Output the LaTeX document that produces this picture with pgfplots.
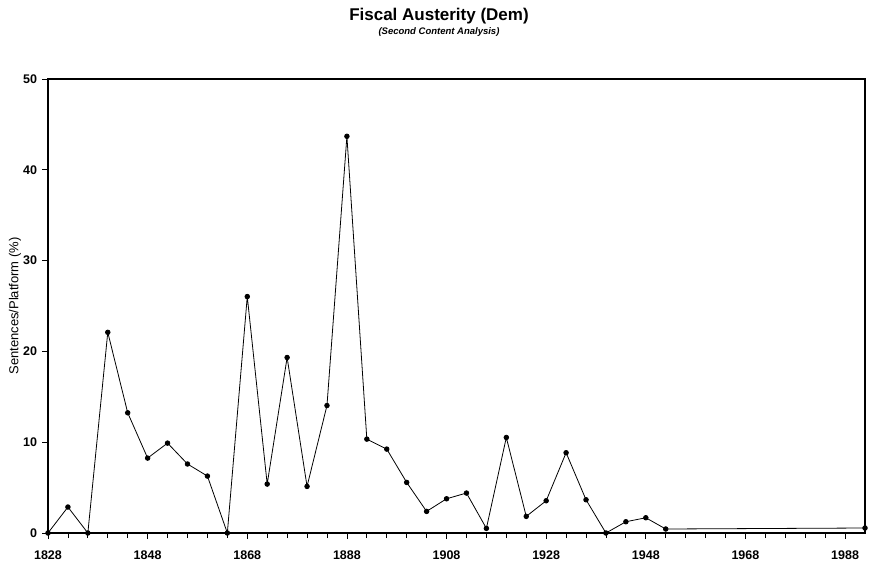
\documentclass[border=0pt]{standalone}
\usepackage{pgfplots}
\pgfplotsset{compat=1.18}
\usepackage{fontspec}
\setmainfont{Liberation Sans}
\begin{document}
\begin{tikzpicture}
\useasboundingbox (-48bp,-34bp) rectangle (821bp,533bp);
\node[font=\bfseries\fontsize{17bp}{19bp}\selectfont] at (391bp,517bp) {Fiscal Austerity (Dem)};
\node[font=\bfseries\itshape\fontsize{9.5bp}{11bp}\selectfont] at (391bp,501bp) {(Second Content Analysis)};
\begin{axis}[
  at={(0,0)}, anchor=south west,
  scale only axis, width=817bp, height=454bp,
  xmin=1828, xmax=1992, ymin=0, ymax=50,
  xtick={1828,1848,...,1988}, minor x tick num=4,
  ytick={0,10,...,50},
  xtick pos=bottom, ytick pos=left, tick align=outside,
  major tick length=6bp, minor tick length=5bp,
  axis line style={line width=1.1pt},
  every tick/.style={black, line width=0.8pt},
  /pgf/number format/assume math mode=true,
  /pgf/number format/1000 sep={},
  ticklabel style={font=\bfseries\fontsize{12.5bp}{14bp}\selectfont},
  xticklabel style={yshift=-8bp},
  yticklabel style={xshift=-1.5bp},
  ylabel={Sentences/Platform (\%)},
  ylabel style={at={(axis description cs:-0.0404,0.5)}, anchor=center, font=\fontsize{13bp}{15bp}\selectfont},
  clip=false,
]
\addplot[black, line width=0.8pt, mark=*, mark size=2.3bp, mark options={solid, fill=black}] coordinates {
(1828,0) (1832,2.86) (1836,0) (1840,22.1) (1844,13.24) (1848,8.25) (1852,9.9)
(1856,7.6) (1860,6.27) (1864,0) (1868,26.04) (1872,5.39) (1876,19.33)
(1880,5.13) (1884,14.04) (1888,43.69) (1892,10.34) (1896,9.24) (1900,5.57)
(1904,2.38) (1908,3.77) (1912,4.40) (1916,0.51) (1920,10.52) (1924,1.83)
(1928,3.55) (1932,8.84) (1936,3.66) (1940,0) (1944,1.24) (1948,1.68)
(1952,0.44) (1992,0.55)
};
\end{axis}
\end{tikzpicture}
\end{document}
